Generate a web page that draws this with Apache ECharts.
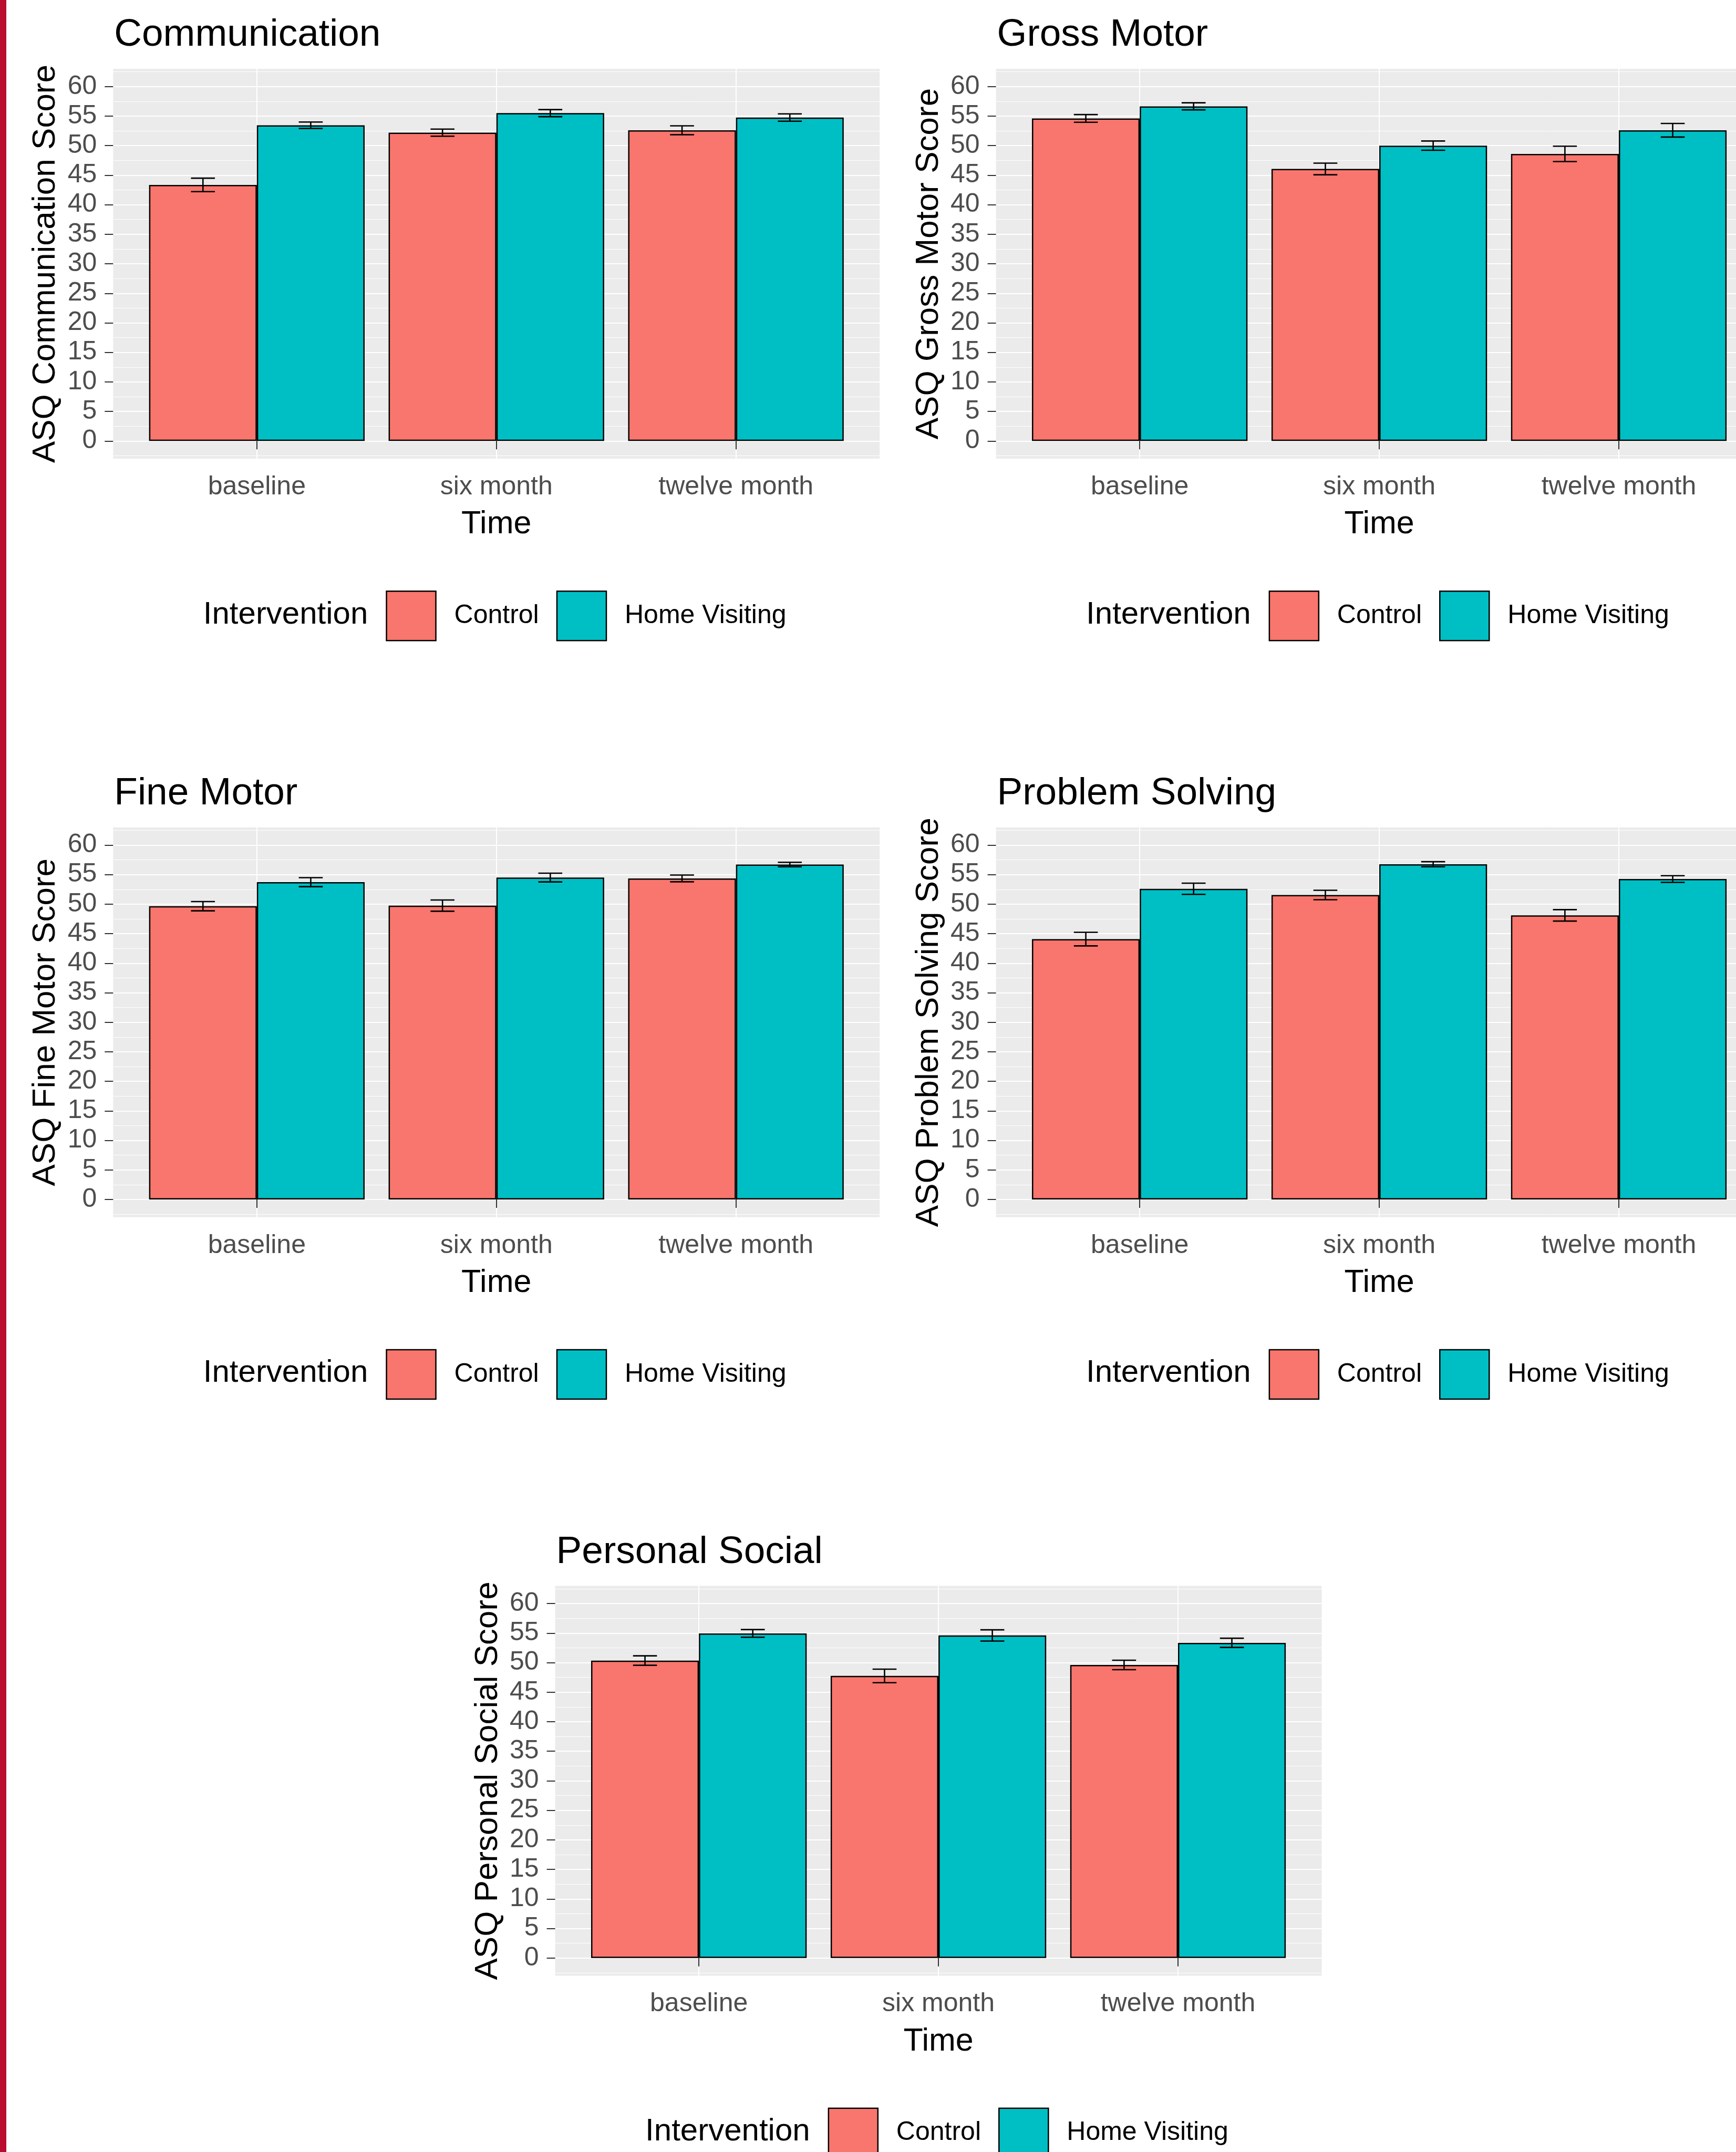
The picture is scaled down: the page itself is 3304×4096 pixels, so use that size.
<!DOCTYPE html>
<html>
<head>
<meta charset="utf-8">
<title>ASQ scores by time and intervention</title>
<script src="https://cdn.jsdelivr.net/npm/echarts@6/dist/echarts.min.js"></script>
<style>
  html, body { margin: 0; padding: 0; background: #fff; }
  #chart { width: 3304px; height: 4096px; }
</style>
</head>
<body>
<div id="chart"></div>
<script>
var categories = ['baseline', 'six month', 'twelve month'];
var groups = ['Control', 'Home Visiting'];
var xTicks = [1, 2, 3];
var yTicks = [0, 5, 10, 15, 20, 25, 30, 35, 40, 45, 50, 55, 60];
var yMinorTicks = [-2.5, 2.5, 7.5, 12.5, 17.5, 22.5, 27.5, 32.5, 37.5, 42.5, 47.5, 52.5, 57.5, 62.5];

// mean scores and standard errors
var communicationControl = [43.35, 52.2, 52.6];
var communicationHome = [53.45, 55.5, 54.75];
var communicationControlSE = [1.14, 0.6, 0.75];
var communicationHomeSE = [0.54, 0.6, 0.62];

var grossControl = [54.6, 46.05, 48.6];
var grossHome = [56.65, 50.0, 52.6];
var grossControlSE = [0.65, 0.98, 1.3];
var grossHomeSE = [0.6, 0.78, 1.15];

var fineControl = [49.65, 49.75, 54.35];
var fineHome = [53.72, 54.5, 56.7];
var fineControlSE = [0.78, 0.95, 0.57];
var fineHomeSE = [0.76, 0.74, 0.38];

var problemControl = [44.08, 51.55, 48.1];
var problemHome = [52.6, 56.75, 54.25];
var problemControlSE = [1.15, 0.8, 0.97];
var problemHomeSE = [0.95, 0.43, 0.57];

var socialControl = [50.35, 47.75, 49.6];
var socialHome = [54.95, 54.6, 53.35];
var socialControlSE = [0.8, 1.15, 0.8];
var socialHomeSE = [0.65, 0.95, 0.78];

var panels = [
  { title: 'Communication', yName: 'ASQ Communication Score',
    control: communicationControl, home: communicationHome, controlSE: communicationControlSE, homeSE: communicationHomeSE },
  { title: 'Gross Motor', yName: 'ASQ Gross Motor Score',
    control: grossControl, home: grossHome, controlSE: grossControlSE, homeSE: grossHomeSE },
  { title: 'Fine Motor', yName: 'ASQ Fine Motor Score',
    control: fineControl, home: fineHome, controlSE: fineControlSE, homeSE: fineHomeSE },
  { title: 'Problem Solving', yName: 'ASQ Problem Solving Score',
    control: problemControl, home: problemHome, controlSE: problemControlSE, homeSE: problemHomeSE },
  { title: 'Personal Social', yName: 'ASQ Personal Social Score',
    control: socialControl, home: socialHome, controlSE: socialControlSE, homeSE: socialHomeSE }
];

// layout (px)
var font = 'Liberation Sans, Arial, sans-serif';
var unitX = 455.9;
var panelW = 1458.9, panelH = 742.1;
var panelPos = [[215.3, 131], [1895.6, 131], [215.3, 1574.7], [1895.6, 1574.7], [1056.6, 3018.4]];
var controlColor = '#F8766D', homeColor = '#00BFC4';

var myChart = echarts.init(document.getElementById('chart'));

var option = {
  animation: false,
  backgroundColor: '#ffffff',
  textStyle: { fontFamily: font },
  grid: [], xAxis: [], yAxis: [], series: [], legend: [],
  graphic: { elements: [
    { type: 'rect', shape: { x: 0, y: 0, width: 12, height: 4096 }, style: { fill: '#BA0C2F' } }
  ] }
};

panels.forEach(function (p, i) {
  var left = panelPos[i][0], top = panelPos[i][1];

  option.grid.push({
    left: left, top: top, width: panelW, height: panelH,
    outerBoundsMode: 'none', containLabel: false,
    show: true, backgroundColor: '#EBEBEB', borderWidth: 0
  });

  option.xAxis.push({
    type: 'value', gridIndex: i, min: 0.4, max: 3.6,
    axisLine: { show: false },
    axisTick: { show: true, customValues: xTicks, length: 16, lineStyle: { color: '#333333', width: 2 } },
    axisLabel: {
      customValues: xTicks, margin: 29, fontSize: 50, color: '#4D4D4D', fontFamily: font,
      formatter: function (v) { return categories[Math.round(v) - 1]; }
    },
    splitLine: { show: true, lineStyle: { color: '#ffffff', width: 2 } },
    name: 'Time', nameLocation: 'middle', nameGap: 95,
    nameTextStyle: { fontSize: 61, color: '#000000', fontFamily: font }
  });

  option.yAxis.push({
    type: 'value', gridIndex: i, min: -3, max: 63,
    axisLine: { show: false },
    axisTick: { show: true, customValues: yTicks, length: 16, lineStyle: { color: '#333333', width: 2 } },
    axisLabel: { customValues: yTicks, margin: 31, fontSize: 50, color: '#4D4D4D', fontFamily: font, padding: [14, 0, 0, 0] },
    splitLine: { show: true, lineStyle: { color: '#ffffff', width: 2 } },
    name: p.yName, nameLocation: 'middle', nameGap: 97, nameRotate: 90,
    nameTextStyle: { fontSize: 62, color: '#000000', fontFamily: font }
  });
  // minor gridlines
  option.yAxis.push({
    type: 'value', gridIndex: i, min: -3, max: 63, position: 'left',
    axisLine: { show: false },
    axisTick: { show: false, customValues: yMinorTicks },
    axisLabel: { show: false },
    splitLine: { show: true, lineStyle: { color: '#ffffff', width: 1 } }
  });

  option.series.push({
    type: 'bar', name: 'Control', xAxisIndex: i, yAxisIndex: 2 * i,
    data: p.control.map(function (v, k) { return [k + 1, v]; }),
    barWidth: 0.45 * unitX, barGap: '0%', z: 3,
    itemStyle: { color: controlColor, borderColor: '#000000', borderWidth: 2.5 }
  });
  option.series.push({
    type: 'bar', name: 'Home Visiting', xAxisIndex: i, yAxisIndex: 2 * i,
    data: p.home.map(function (v, k) { return [k + 1, v]; }),
    barWidth: 0.45 * unitX, barGap: '0%', z: 3,
    itemStyle: { color: homeColor, borderColor: '#000000', borderWidth: 2.5 }
  });

  var errData = [];
  p.control.forEach(function (v, k) { errData.push([k + 1 - 0.225, v, p.controlSE[k]]); });
  p.home.forEach(function (v, k) { errData.push([k + 1 + 0.225, v, p.homeSE[k]]); });
  option.series.push({
    type: 'custom', xAxisIndex: i, yAxisIndex: 2 * i, z: 5, silent: true,
    data: errData,
    renderItem: function (params, api) {
      var x = api.value(0), m = api.value(1), se = api.value(2);
      var tl = api.coord([x - 0.05, m + se]), tr = api.coord([x + 0.05, m + se]);
      var bl = api.coord([x - 0.05, m - se]), br = api.coord([x + 0.05, m - se]);
      var ct = api.coord([x, m + se]), cb = api.coord([x, m - se]);
      var st = { stroke: '#000000', lineWidth: 2.6 };
      return { type: 'group', children: [
        { type: 'line', shape: { x1: tl[0], y1: tl[1], x2: tr[0], y2: tr[1] }, style: st },
        { type: 'line', shape: { x1: bl[0], y1: bl[1], x2: br[0], y2: br[1] }, style: st },
        { type: 'line', shape: { x1: ct[0], y1: ct[1], x2: cb[0], y2: cb[1] }, style: st }
      ] };
    }
  });

  option.legend.push({
    data: groups, left: left + 514, top: top + 1035 - 47,
    orient: 'horizontal', icon: 'rect', itemWidth: 94, itemHeight: 94, itemGap: 33,
    selectedMode: false,
    itemStyle: { borderColor: '#000000', borderWidth: 2.5 },
    textStyle: { fontSize: 50, color: '#000000', fontFamily: font, padding: [0, 0, 0, 30] }
  });

  option.graphic.elements.push({
    type: 'text', x: left + 2, y: top - 64,
    style: { text: p.title, font: '73px ' + font, fill: '#000000', align: 'left', verticalAlign: 'middle' }
  });
  option.graphic.elements.push({
    type: 'text', x: left + 171.5, y: top + 1039,
    style: { text: 'Intervention', font: '60px ' + font, fill: '#000000', align: 'left', verticalAlign: 'middle' }
  });
});

myChart.setOption(option);
</script>
</body>
</html>
